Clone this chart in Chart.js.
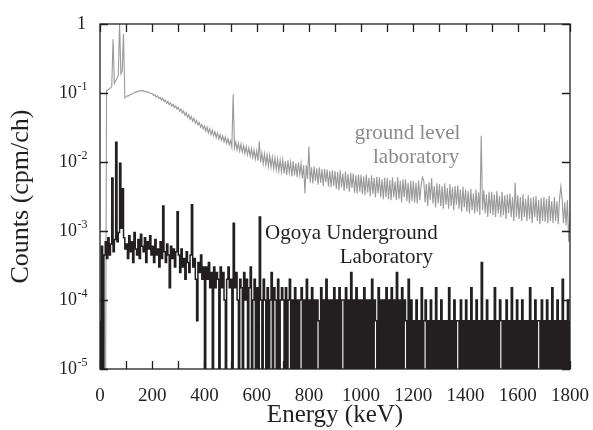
<!DOCTYPE html>
<html>
<head>
<meta charset="utf-8">
<title>Background spectra</title>
<style>
  html, body { margin: 0; padding: 0; background: #fff; }
  canvas { display: block; }
</style>
<script src="https://cdn.jsdelivr.net/npm/chart.js@4.4.1/dist/chart.umd.min.js"></script>
</head>
<body>
<canvas id="spectrum" width="593" height="430"></canvas>
<script>
// --- Spectrum data (5 keV bins, one row = 100 keV) ---
const binKeV = 5;

// ground level laboratory, in units of 1e-3 cpm/ch (null = no data)
const groundMilliCpm = [
  null, null, null, null, 0, 108, 112, 114, 119, 124, 600, 138, 150, 162, 178, 1000, 190, 208, 720, 85,
  88, 91, 91, 95, 95, 99, 100, 103, 103, 107, 106, 109, 107, 108, 105, 106, 103, 103, 99, 99,
  98.5, 92, 95, 87.5, 91, 83, 87, 79, 84, 75.5, 79, 71, 75.5, 68, 72, 64.5, 68.5, 61.5, 65, 58.5,
  62, 54.5, 58.5, 51, 55, 47.5, 52, 44.5, 48.5, 41.5, 45.5, 39, 43, 36.5, 40, 34.5, 37.5, 32, 35, 30,
  33.5, 28, 32, 26.5, 30.5, 25, 29, 24, 27.5, 22.5, 26.5, 21.5, 25, 20.5, 24, 19.5, 23, 18.5, 22, 17.8,
  20.5, 16.5, 96, 16, 19.5, 15, 18.8, 14.4, 18.3, 13.8, 17.4, 13.2, 16.8, 12.7, 16, 12.2, 15.6, 11.6, 15, 11,
  14.5, 10.4, 20, 9.9, 13.6, 9.4, 13.2, 9.1, 12.7, 8.7, 12.5, 8.4, 11.8, 8.0, 11.5, 7.7, 11.0, 7.4, 10.7, 7.2,
  10.8, 6.8, 10.3, 6.5, 10.6, 7.0, 9.9, 6.2, 10.3, 6.4, 9.6, 6.0, 9.9, 6.5, 9.5, 5.8, 9.0, 3.5, 9.0, 5.7,
  16.7, 5.0, 8.4, 4.9, 8.6, 5.3, 8.1, 4.7, 8.4, 5.0, 7.9, 4.5, 8.0, 5.1, 7.8, 4.4, 7.4, 4.3, 7.6, 4.5,
  7.4, 4.1, 7.2, 3.9, 7.6, 4.3, 6.8, 3.8, 7.3, 4.1, 6.7, 3.7, 7.0, 4.2, 6.8, 3.6, 6.4, 3.5, 6.6, 3.7,
  6.5, 3.4, 6.2, 3.3, 6.6, 3.6, 5.9, 3.2, 6.4, 3.4, 5.9, 3.1, 6.1, 3.5, 6.0, 3.1, 5.6, 2.9, 5.9, 3.1,
  5.9, 2.9, 5.5, 2.8, 6.0, 3.1, 5.2, 2.8, 6.0, 2.9, 5.4, 2.6, 5.6, 3.1, 5.6, 2.7, 5.0, 2.5, 5.4, 2.7,
  5.3, 2.6, 5.0, 2.5, 5.4, 2.8, 4.7, 6.0, 5.4, 2.6, 4.8, 2.3, 5.1, 2.8, 5.8, 2.5, 4.5, 2.2, 4.9, 2.5,
  4.8, 2.3, 4.5, 2.1, 4.9, 2.4, 4.2, 2.1, 4.8, 2.3, 4.3, 2.0, 4.5, 2.4, 4.6, 2.1, 4.0, 1.9, 4.4, 2.2,
  4.0, 1.9, 3.8, 1.8, 4.1, 2.0, 3.5, 1.8, 4.0, 1.9, 3.6, 1.7, 24, 2.0, 3.9, 1.8, 3.4, 1.6, 3.7, 1.8,
  3.7, 1.7, 3.4, 1.6, 3.8, 1.8, 3.2, 1.6, 3.7, 1.7, 3.3, 1.5, 3.4, 1.8, 3.5, 1.6, 3.1, 1.4, 5.0, 1.6,
  3.3, 1.5, 3.1, 1.4, 3.4, 1.6, 2.9, 1.4, 3.3, 1.5, 3.0, 1.3, 3.1, 1.6, 3.2, 1.4, 2.8, 1.25, 3.0, 1.4,
  3.1, 1.35, 2.9, 1.3, 3.2, 1.4, 2.7, 1.3, 3.1, 1.4, 2.7, 1.25, 2.9, 4.4, 2.9, 1.3, 2.6, 1.2, 2.8, 0.7,
  1.9
];

// Ogoya Underground Laboratory, in counts (one count = 5e-5 cpm/ch)
const undergroundCounts = [
  0, 12, 0, 9, 14, 8, 16, 9, 13, 117, 10, 15, 386, 14, 19, 192, 22, 82, 16, 11,
  13, 8, 17, 10, 14, 7, 19, 11, 9, 15, 8, 18, 12, 10, 16, 7, 14, 11, 17, 9,
  12, 7, 15, 9, 11, 6, 14, 8, 46, 10, 7, 13, 9, 3, 12, 8, 11, 6, 10, 38,
  9, 5, 11, 6, 8, 4, 10, 7, 5, 9, 48, 6, 8, 4, 1, 7, 5, 9, 4, 6,
  0, 6, 4, 7, 3, 5, 0, 6, 3, 5, 4, 0, 6, 3, 5, 2, 0, 4, 6, 3,
  4, 0, 26, 3, 5, 2, 0, 4, 3, 0, 5, 2, 4, 0, 3, 6, 0, 2, 4, 0,
  3, 0, 32, 2, 0, 4, 2, 0, 3, 0, 2, 5, 0, 3, 2, 0, 4, 0, 2, 3,
  2, 0, 3, 0, 2, 4, 0, 2, 0, 3, 0, 2, 0, 2, 3, 0, 2, 0, 4, 0,
  2, 0, 3, 0, 2, 0, 2, 1, 0, 3, 0, 2, 0, 4, 0, 2, 0, 2, 0, 3,
  0, 2, 0, 3, 0, 2, 2, 0, 3, 0, 2, 0, 5, 0, 2, 0, 3, 0, 2, 0,
  2, 0, 3, 0, 2, 0, 2, 0, 4, 0, 2, 1, 0, 3, 0, 2, 0, 2, 0, 3,
  0, 2, 0, 3, 0, 2, 0, 5, 0, 2, 0, 3, 0, 2, 1, 0, 4, 0, 2, 0,
  1, 0, 2, 0, 1, 0, 3, 0, 1, 2, 0, 1, 0, 2, 0, 1, 0, 3, 0, 1,
  0, 2, 0, 1, 0, 1, 0, 3, 0, 1, 0, 2, 0, 1, 1, 0, 2, 0, 1, 0,
  2, 0, 1, 0, 3, 0, 1, 0, 2, 0, 1, 0, 7, 0, 1, 0, 2, 0, 1, 0,
  1, 0, 3, 0, 1, 0, 2, 1, 0, 1, 0, 2, 0, 1, 0, 3, 0, 1, 0, 2,
  0, 1, 0, 2, 0, 1, 0, 1, 0, 3, 0, 1, 0, 2, 0, 1, 1, 0, 2, 0,
  1, 0, 2, 0, 1, 0, 3, 0, 1, 0, 2, 0, 1, 0, 4, 0, 1, 0, 2, 0,
  1
];
const cpmPerCount = 5e-5;

const xTickLabels = ['0', '200', '400', '600', '800', '1000', '1200', '1400', '1600', '1800'];
const yDecades = [1e-5, 1e-4, 1e-3, 1e-2, 1e-1, 1];
const yTickLabels = [['10', '-5'], ['10', '-4'], ['10', '-3'], ['10', '-2'], ['10', '-1'], ['1', '']];

// --- Look ---
const ink = '#231f20';
const grey = '#999999';
const serif = "'Liberation Serif', 'Times New Roman', serif";
const zeroFloor = 1e-7;      // empty channels drop below the axis floor
const emptyFillLevel = 4.96e-5; // just under one count, lands on a whole pixel row

const seriesNotes = [
  { text: 'ground level', keV: 1380, cpm: 0.0216, align: 'right', color: '#8a8a8a' },
  { text: 'laboratory', keV: 1376, cpm: 0.0097, align: 'right', color: '#8a8a8a' },
  { text: 'Ogoya Underground', keV: 632, cpm: 7.7e-4, align: 'left', color: ink },
  { text: 'Laboratory', keV: 1275, cpm: 3.45e-4, align: 'right', color: ink }
];

function toPoints(values, scale) {
  return values.map((v, i) => ({
    x: i * binKeV,
    y: v === null ? null : (v === 0 ? zeroFloor : v * scale)
  }));
}

// frame, inward ticks, decade labels with superscripts, series notes
const frameAndLabels = {
  id: 'frameAndLabels',
  afterDatasetsDraw(chart) {
    const { ctx, chartArea: a, scales: { x, y } } = chart;
    ctx.save();
    ctx.strokeStyle = ink;
    ctx.lineWidth = 1.3;
    ctx.strokeRect(a.left, a.top, a.right - a.left, a.bottom - a.top);

    ctx.beginPath();
    x.ticks.forEach(t => {
      const px = Math.round(x.getPixelForValue(t.value)) + 0.5;
      ctx.moveTo(px, a.bottom); ctx.lineTo(px, a.bottom - 8);
      ctx.moveTo(px, a.top); ctx.lineTo(px, a.top + 8);
    });
    yDecades.forEach(v => {
      const py = Math.round(y.getPixelForValue(v)) + 0.5;
      ctx.moveTo(a.left, py); ctx.lineTo(a.left + 8, py);
      ctx.moveTo(a.right, py); ctx.lineTo(a.right - 8, py);
    });
    ctx.stroke();

    ctx.fillStyle = ink;
    ctx.textBaseline = 'alphabetic';
    yDecades.forEach((v, i) => {
      const py = y.getPixelForValue(v);
      const [base, sup] = yTickLabels[i];
      const supX = a.left - 23;
      ctx.font = '18px ' + serif;
      ctx.textAlign = 'right';
      if (sup) {
        ctx.fillText(base, supX, py + 4.5);
        ctx.font = '12px ' + serif;
        ctx.textAlign = 'left';
        ctx.fillText(sup, supX + 0.5, py - 3);
      } else {
        ctx.fillText(base, a.left - 14, py + 4.5);
      }
    });

    ctx.font = '21px ' + serif;
    seriesNotes.forEach(n => {
      ctx.fillStyle = n.color;
      ctx.textAlign = n.align;
      ctx.fillText(n.text, x.getPixelForValue(n.keV), y.getPixelForValue(n.cpm));
    });
    ctx.restore();
  }
};

Chart.defaults.font.family = serif;
Chart.defaults.color = ink;

new Chart(document.getElementById('spectrum'), {
  type: 'line',
  data: {
    datasets: [
      {
        label: 'Ogoya Underground Laboratory',
        data: toPoints(undergroundCounts, cpmPerCount),
        borderColor: ink,
        borderWidth: 1.5,
        stepped: true,
        pointRadius: 0,
        // empty channels: solid down to the floor below one count
        fill: { target: { value: emptyFillLevel }, above: 'rgba(0,0,0,0)', below: ink }
      },
      {
        label: 'ground level laboratory',
        data: toPoints(groundMilliCpm, 1e-3),
        borderColor: grey,
        borderWidth: 1.1,
        pointRadius: 0,
        tension: 0,
        fill: false
      }
    ]
  },
  options: {
    responsive: false,
    animation: false,
    layout: { padding: { top: 24, right: 23, left: 0, bottom: 0 } },
    plugins: {
      legend: { display: false },
      tooltip: { enabled: false }
    },
    scales: {
      x: {
        type: 'linear',
        min: 0,
        max: 1800,
        grid: { display: false, drawTicks: false },
        border: { display: false },
        ticks: {
          stepSize: 100,
          autoSkip: false,
          maxRotation: 0,
          padding: 16,
          color: ink,
          font: { size: 19 },
          callback: v => xTickLabels.includes(String(v)) ? String(v) : ''
        },
        title: {
          display: true,
          text: 'Energy (keV)',
          color: ink,
          font: { size: 25 },
          padding: { top: 0, bottom: 0 }
        },
        afterFit: s => { s.height = 61; s.paddingLeft = 0; s.paddingRight = 0; }
      },
      y: {
        type: 'logarithmic',
        min: 1e-5,
        max: 1,
        grid: { display: false, drawTicks: false },
        border: { display: false },
        ticks: { display: false },
        title: {
          display: true,
          text: 'Counts (cpm/ch)',
          color: ink,
          font: { size: 26 },
          padding: { top: 6, bottom: 0 }
        },
        afterFit: s => { s.width = 100; s.paddingTop = 0; s.paddingBottom = 0; }
      }
    }
  },
  plugins: [frameAndLabels]
});
</script>
</body>
</html>
